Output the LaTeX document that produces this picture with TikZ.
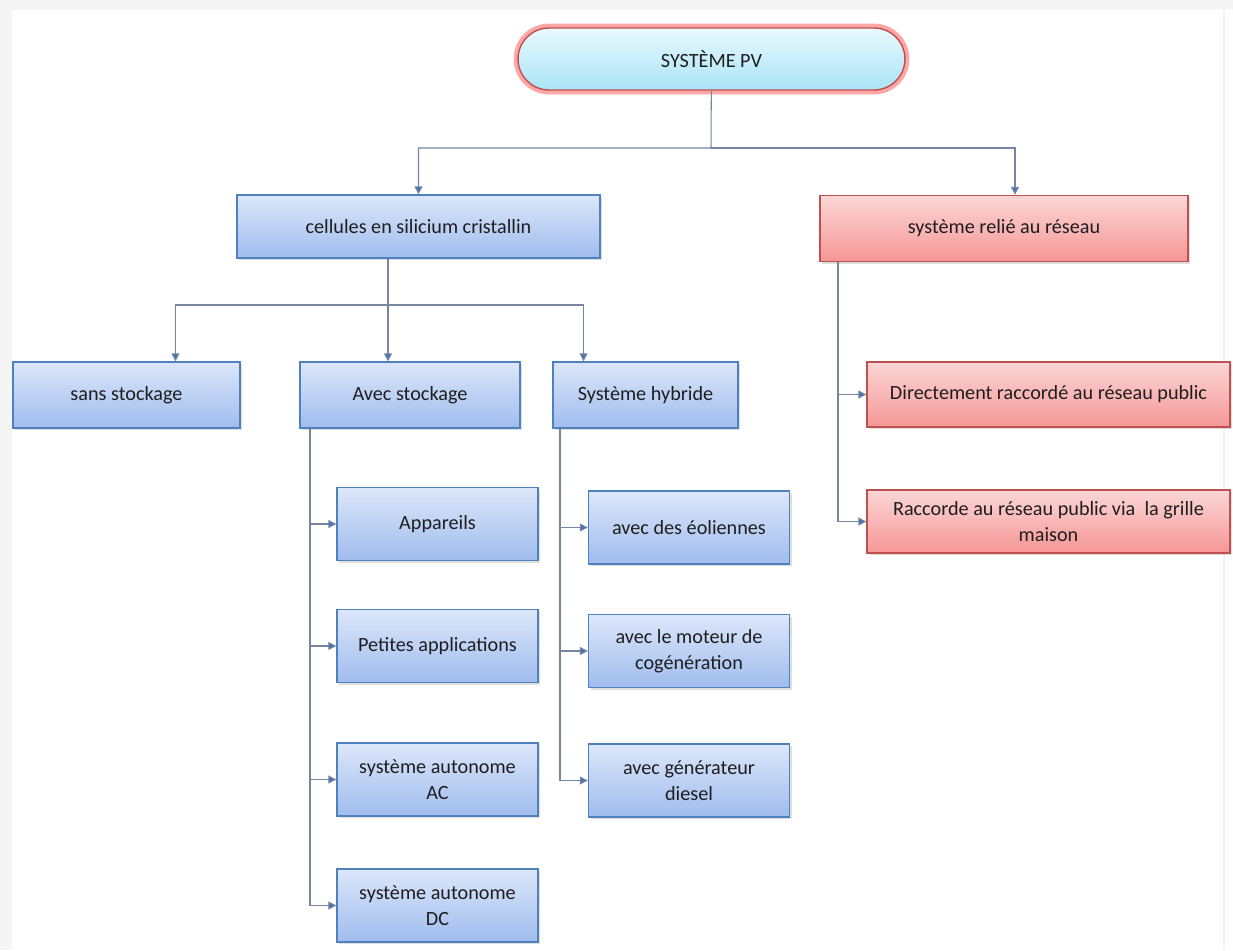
\documentclass[tikz,border=0pt]{standalone}
\usepackage{fontspec}
\setmainfont{Carlito}
\usepackage{xcolor}
\usetikzlibrary{arrows.meta}
\usetikzlibrary{shadows}
\definecolor{boxblue}{RGB}{79,129,189}
\definecolor{topblue}{RGB}{220,231,250}
\definecolor{botblue}{RGB}{160,188,238}
\definecolor{boxred}{RGB}{192,80,77}
\definecolor{topred}{RGB}{252,214,214}
\definecolor{botred}{RGB}{246,150,150}
\definecolor{topcyan}{RGB}{232,249,255}
\definecolor{botcyan}{RGB}{170,228,247}
\definecolor{linkgrey}{RGB}{118,134,160}
\definecolor{tipblue}{RGB}{70,115,180}
\definecolor{textgrey}{RGB}{30,30,30}

\tikzset{
  every node/.style={font=\fontsize{11.5}{15}\selectfont, text=textgrey, align=center},
  bluebox/.style={draw=boxblue, line width=0.8pt, top color=topblue, bottom color=botblue,
    drop shadow={opacity=0.25, shadow xshift=1.2pt, shadow yshift=-1.2pt}},
  redbox/.style={draw=boxred, line width=0.8pt, top color=topred, bottom color=botred,
    drop shadow={opacity=0.25, shadow xshift=1.2pt, shadow yshift=-1.2pt}},
  leafbox/.style={bluebox, minimum width=4.02cm, minimum height=1.46cm},
  link/.style={draw=linkgrey, line width=0.6pt, -{Triangle[length=4.5pt, width=4.5pt, fill=tipblue]}},
}

\begin{document}
\begin{tikzpicture}[x=0.02cm, y=-0.02cm]
\useasboundingbox (0,0) rectangle (1233,950);
% page frame
\fill[gray!8] (0,0) rectangle (1233,950);
\fill[white] (12,10) rectangle (1233,950);
\draw[gray!10, line width=1pt] (1224,10) -- (1224,950);

% top of the tree
\node[draw=red!35, line width=5pt, rounded corners=0.62cm, minimum width=7.74cm, minimum height=1.24cm] at (711.5,59) {};
\node[draw=boxred, line width=0.8pt, rounded corners=0.62cm, top color=topcyan, bottom color=botcyan,
  minimum width=7.74cm, minimum height=1.24cm] (root) at (711.5,59) {SYSTÈME PV};

% first level
\node[bluebox, minimum width=7.26cm, minimum height=1.26cm] (cellules) at (418.5,226.5) {cellules en silicium cristallin};
\node[redbox, minimum width=7.36cm, minimum height=1.32cm] (relie) at (1004,228.5) {système relié au réseau};

% second level
\node[bluebox, minimum width=4.54cm, minimum height=1.32cm] (sans) at (126.5,395) {sans stockage};
\node[bluebox, minimum width=4.4cm, minimum height=1.32cm] (avec) at (410,395) {Avec stockage};
\node[bluebox, minimum width=3.7cm, minimum height=1.32cm] (hybride) at (645.5,395) {Système hybride};
\node[redbox, minimum width=7.26cm, minimum height=1.3cm] (direct) at (1048.5,394.5) {Directement raccordé au réseau public};
\node[redbox, minimum width=7.26cm, minimum height=1.26cm] (grille) at (1048.5,521.5) {Raccorde au réseau public via~~la grille\\maison};

% leaves under Avec stockage
\node[leafbox] (appareils) at (437.5,524) {Appareils};
\node[leafbox] (petites) at (437.5,646) {Petites applications};
\node[leafbox] (autoAC) at (437.5,779.5) {système autonome\\AC};
\node[leafbox] (autoDC) at (437.5,905.5) {système autonome\\DC};

% leaves under Système hybride
\node[leafbox] (eoliennes) at (689,527.5) {avec des éoliennes};
\node[leafbox] (moteur) at (689,651) {avec le moteur de\\cogénération};
\node[leafbox] (diesel) at (689,780.5) {avec générateur\\diesel};

% bus lines
\coordinate (busA) at (711,148);
\coordinate (busB) at (388,305);
\coordinate (trunkA) at (310,0);
\coordinate (trunkB) at (560,0);
\coordinate (trunkC) at (838,0);

\draw[link] (root) -- (busA) -| (cellules.north);
\draw[link] (busA) -| ([xshift=0.22cm]relie.north);

\draw[link] (cellules.south -| busB) -- (busB) -| ([xshift=0.98cm]sans.north);
\draw[link] (busB) -- (avec.north -| busB);
\draw[link] (busB) -| ([xshift=-1.24cm]hybride.north);

\draw[link] (avec.south -| trunkA) |- (appareils.west);
\draw[link] (avec.south -| trunkA) |- (petites.west);
\draw[link] (avec.south -| trunkA) |- (autoAC.west);
\draw[link] (avec.south -| trunkA) |- (autoDC.west);

\draw[link] (hybride.south -| trunkB) |- (eoliennes.west);
\draw[link] (hybride.south -| trunkB) |- (moteur.west);
\draw[link] (hybride.south -| trunkB) |- (diesel.west);

\draw[link] (relie.south -| trunkC) |- (direct.west);
\draw[link] (relie.south -| trunkC) |- (grille.west);
\end{tikzpicture}
\end{document}
